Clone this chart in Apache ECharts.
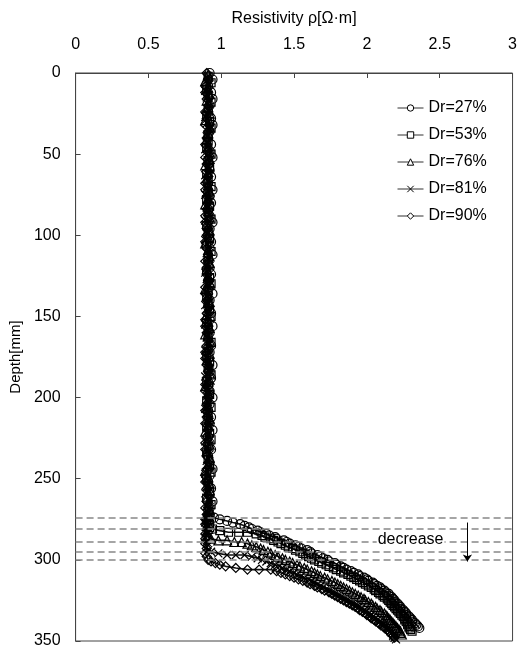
<!DOCTYPE html>
<html><head><meta charset="utf-8">
<script src="https://cdn.jsdelivr.net/npm/echarts@6/dist/echarts.min.js"></script>
<style>html,body{margin:0;padding:0;background:#fff}#c{width:520px;height:651px}</style>
</head><body><div id="c"></div>
<script>
// ---- data ----
const seriesNames = ['Dr=27%', 'Dr=53%', 'Dr=76%', 'Dr=81%', 'Dr=90%'];
const xTicks = [0, 0.5, 1, 1.5, 2, 2.5, 3];
const yTicks = [0, 50, 100, 150, 200, 250, 300, 350];

// depth grids for the constant upper part [mm]
const depthUpA = [0,4,8,12,16,20,24,28,32,36,40,44,48,52,56,60,64,68,72,76,80,84,88,92,96,100,104,108,112,116,120,124,128,132,136,140,144,148,152,156,160,164,168,172,176,180,184,188,192,196,200,204,208,212,216,220,224,228,232,236,240,244,248,252,256,260,264,268,272];
const depthUpB = [2,6,10,14,18,22,26,30,34,38,42,46,50,54,58,62,66,70,74,78,82,86,90,94,98,102,106,110,114,118,122,126,130,134,138,142,146,150,154,158,162,166,170,174,178,182,186,190,194,198,202,206,210,214,218,222,226,230,234,238,242,246,250,254,258,262,266,270];
const depthUpC = [1,5,9,13,17,21,25,29,33,37,41,45,49,53,57,61,65,69,73,77,81,85,89,93,97,101,105,109,113,117,121,125,129,133,137,141,145,149,153,157,161,165,169,173,177,181,185,189,193,197,201,205,209,213,217,221,225,229,233,237,241,245,249,253,257,261,265,269,273];
const depthUpD = [3,7,11,15,19,23,27,31,35,39,43,47,51,55,59,63,67,71,75,79,83,87,91,95,99,103,107,111,115,119,123,127,131,135,139,143,147,151,155,159,163,167,171,175,179,183,187,191,195,199,203,207,211,215,219,223,227,231,235,239,243,247,251,255,259,263,267,271];

// resistivity in the upper part [Ohm m]
const rho27Up = [0.92,0.94,0.91,0.93,0.94,0.92,0.91,0.93,0.94,0.92,0.91,0.93,0.92,0.94,0.91,0.92,0.93,0.91,0.94,0.92,0.93,0.91,0.92,0.94,0.92,0.91,0.93,0.92,0.94,0.91,0.92,0.93,0.91,0.92,0.94,0.92,0.91,0.93,0.92,0.94,0.92,0.91,0.93,0.92,0.91,0.94,0.92,0.93,0.91,0.92,0.94,0.92,0.91,0.93,0.92,0.94,0.91,0.92,0.93,0.91,0.92,0.94,0.92,0.91,0.93,0.92,0.94,0.92,0.92];
const rho53Up = [0.91,0.93,0.90,0.91,0.93,0.91,0.90,0.92,0.93,0.91,0.91,0.90,0.93,0.91,0.92,0.90,0.91,0.93,0.91,0.90,0.92,0.91,0.93,0.90,0.91,0.92,0.90,0.93,0.91,0.91,0.90,0.92,0.93,0.91,0.90,0.91,0.92,0.93,0.90,0.91,0.91,0.93,0.91,0.90,0.92,0.91,0.93,0.90,0.91,0.92,0.90,0.93,0.91,0.91,0.90,0.92,0.93,0.91,0.90,0.91,0.92,0.93,0.90,0.91,0.92,0.90,0.93,0.91];
const rho76Up = [0.91,0.89,0.91,0.92,0.90,0.91,0.92,0.89,0.92,0.91,0.90,0.91,0.92,0.92,0.89,0.91,0.90,0.91,0.92,0.91,0.89,0.91,0.92,0.90,0.92,0.91,0.89,0.91,0.92,0.92,0.90,0.91,0.92,0.89,0.91,0.92,0.91,0.90,0.91,0.92,0.89,0.92,0.91,0.92,0.90,0.91,0.92,0.92,0.89,0.91,0.91,0.90,0.91,0.92,0.91,0.89,0.91,0.92,0.90,0.92,0.91,0.89,0.91,0.92,0.92,0.90,0.91,0.92,0.90];
const rho81Up = [0.90,0.92,0.89,0.90,0.91,0.92,0.89,0.90,0.92,0.90,0.91,0.89,0.90,0.92,0.92,0.89,0.91,0.90,0.89,0.92,0.90,0.92,0.89,0.91,0.90,0.89,0.92,0.90,0.91,0.92,0.89,0.90,0.92,0.90,0.91,0.89,0.92,0.90,0.89,0.91,0.90,0.92,0.89,0.90,0.92,0.91,0.89,0.90,0.92,0.90,0.91,0.89,0.90,0.92,0.90,0.91,0.89,0.90,0.92,0.90,0.92,0.89,0.91,0.90,0.89,0.92,0.90,0.91];
const rho90Up = [0.90,0.91,0.89,0.89,0.90,0.91,0.89,0.90,0.89,0.91,0.90,0.89,0.91,0.89,0.90,0.91,0.91,0.89,0.89,0.90,0.91,0.90,0.89,0.89,0.91,0.90,0.89,0.90,0.91,0.89,0.90,0.91,0.91,0.89,0.89,0.90,0.91,0.90,0.89,0.89,0.90,0.91,0.90,0.89,0.89,0.90,0.91,0.90,0.89,0.89,0.91,0.90,0.89,0.90,0.89,0.91,0.90,0.89,0.89,0.90,0.91,0.90,0.89,0.89,0.90,0.91,0.90,0.89,0.90];

// lower part (knee and increase): [depth mm, resistivity]
const low27 = [[273,0.92],[274,0.95],[275,0.99],[276,1.04],[277,1.08],[278,1.13],[279,1.16],[280,1.19],[281,1.21],[282,1.25],[283,1.27],[284,1.31],[285,1.33],[286,1.37],[287,1.38],[288,1.43],[289,1.45],[290,1.47],[291,1.51],[292,1.53],[293,1.55],[294,1.59],[295,1.61],[296,1.62],[297,1.66],[298,1.68],[299,1.70],[300,1.73],[301,1.74],[302,1.78],[303,1.79],[304,1.82],[305,1.84],[306,1.86],[307,1.89],[308,1.91],[309,1.94],[310,1.95],[311,1.98],[312,2.00],[313,2.01],[314,2.04],[315,2.05],[316,2.07],[317,2.09],[318,2.10],[319,2.12],[320,2.13],[321,2.15],[322,2.15],[323,2.17],[324,2.18],[325,2.19],[326,2.19],[327,2.21],[328,2.22],[329,2.23],[330,2.23],[331,2.25],[332,2.26],[333,2.27],[334,2.27],[335,2.29],[336,2.30],[337,2.31],[338,2.31],[339,2.33],[340,2.34],[341,2.35],[342,2.36]];
const low53 = [[274,0.91],[276,0.91],[278,0.92],[280,0.92],[281,0.94],[282,0.99],[283,1.05],[283,1.12],[283,1.18],[284,1.24],[285,1.28],[286,1.30],[287,1.34],[288,1.36],[289,1.39],[290,1.41],[291,1.44],[292,1.46],[293,1.49],[294,1.51],[295,1.54],[296,1.56],[297,1.58],[298,1.60],[299,1.62],[300,1.64],[301,1.67],[302,1.69],[303,1.72],[304,1.74],[305,1.77],[306,1.79],[307,1.82],[308,1.84],[309,1.87],[310,1.89],[311,1.91],[312,1.93],[313,1.95],[314,1.97],[315,1.99],[316,2.01],[317,2.03],[318,2.05],[319,2.06],[320,2.08],[321,2.09],[322,2.11],[323,2.12],[324,2.14],[325,2.15],[326,2.16],[327,2.17],[328,2.18],[329,2.19],[330,2.20],[331,2.21],[332,2.22],[333,2.23],[334,2.24],[335,2.25],[336,2.26],[337,2.26],[338,2.27],[339,2.28],[340,2.28],[341,2.29],[342,2.29],[343,2.30],[344,2.31]];
const low76 = [[275,0.90],[277,0.91],[279,0.90],[281,0.91],[283,0.90],[285,0.91],[287,0.93],[288,0.98],[288,1.04],[289,1.09],[289,1.14],[290,1.18],[291,1.21],[292,1.24],[293,1.27],[294,1.29],[295,1.32],[296,1.34],[297,1.37],[298,1.39],[299,1.42],[300,1.44],[301,1.47],[302,1.49],[303,1.52],[304,1.54],[305,1.57],[306,1.59],[307,1.62],[308,1.64],[309,1.66],[310,1.68],[311,1.71],[312,1.73],[313,1.76],[314,1.78],[315,1.80],[316,1.82],[317,1.84],[318,1.86],[319,1.88],[320,1.90],[321,1.92],[322,1.94],[323,1.96],[324,1.98],[325,1.99],[326,2.01],[327,2.03],[328,2.04],[329,2.06],[330,2.07],[331,2.09],[332,2.10],[333,2.12],[334,2.13],[335,2.14],[336,2.15],[337,2.16],[338,2.17],[339,2.18],[340,2.19],[341,2.20],[342,2.21],[343,2.22],[344,2.23],[345,2.23],[346,2.24]];
const low81 = [[274,0.90],[277,0.89],[280,0.90],[283,0.90],[286,0.89],[289,0.90],[292,0.90],[294,0.91],[295,0.93],[296,0.98],[297,1.04],[297,1.10],[297,1.16],[298,1.21],[299,1.25],[300,1.28],[301,1.31],[302,1.34],[303,1.37],[304,1.40],[305,1.42],[306,1.45],[307,1.47],[308,1.50],[309,1.52],[310,1.55],[311,1.57],[312,1.60],[313,1.62],[314,1.64],[315,1.66],[316,1.68],[317,1.70],[318,1.72],[319,1.74],[320,1.76],[321,1.78],[322,1.80],[323,1.82],[324,1.84],[325,1.86],[326,1.88],[327,1.90],[328,1.92],[329,1.94],[330,1.96],[331,1.98],[332,1.99],[333,2.01],[334,2.03],[335,2.04],[336,2.06],[337,2.07],[338,2.09],[339,2.10],[340,2.11],[341,2.12],[342,2.14],[343,2.15],[344,2.16],[345,2.17],[346,2.18],[347,2.18],[348,2.19],[349,2.20]];
const low90 = [[275,0.89],[278,0.89],[281,0.90],[284,0.89],[287,0.89],[290,0.89],[293,0.90],[296,0.89],[298,0.90],[300,0.91],[301,0.93],[302,0.96],[303,0.99],[304,1.03],[305,1.10],[306,1.18],[306,1.26],[306,1.34],[307,1.38],[308,1.41],[309,1.44],[310,1.47],[311,1.50],[312,1.53],[313,1.56],[314,1.59],[315,1.61],[316,1.64],[317,1.66],[318,1.69],[319,1.71],[320,1.74],[321,1.76],[322,1.78],[323,1.80],[324,1.82],[325,1.84],[326,1.86],[327,1.88],[328,1.90],[329,1.92],[330,1.94],[331,1.95],[332,1.97],[333,1.99],[334,2.00],[335,2.02],[336,2.03],[337,2.05],[338,2.06],[339,2.08],[340,2.09],[341,2.11],[342,2.12],[343,2.14],[344,2.15],[345,2.16],[346,2.17],[347,2.18],[348,2.19]];

// dashed reference depths and annotation
const dashDepths = [274, 281, 289, 295, 300];
const arrowRho = 2.69, arrowFrom = 277, arrowTo = 301;
const noteRho = 2.30, noteDepth = 287.7, noteText = 'decrease';

// ---- build ----
function pairs(dUp, rUp, low) {
  const out = [];
  for (let i = 0; i < dUp.length; i++) if (rUp[i] !== undefined) out.push([rUp[i], dUp[i]]);
  for (let i = 0; i < low.length; i++) out.push([low[i][1], low[i][0]]);
  return out;
}
const seriesData = [
  pairs(depthUpA, rho27Up, low27),
  pairs(depthUpB, rho53Up, low53),
  pairs(depthUpC, rho76Up, low76),
  pairs(depthUpD, rho81Up, low81),
  pairs(depthUpA, rho90Up, low90)
];
const symbols = ['circle', 'rect', 'triangle', 'path://M0,0L10,10M10,0L0,10', 'diamond'];
const sizes = [9, 8, 9, 8, 9];
const FONT = '"Liberation Sans", Arial, sans-serif';

const series = seriesNames.map((n, i) => ({
  name: n,
  type: 'line',
  data: seriesData[i],
  symbol: symbols[i],
  symbolSize: sizes[i],
  showAllSymbol: true,
  clip: false,
  z: 3,
  lineStyle: { color: '#111', width: 1.6 },
  itemStyle: { color: 'rgba(0,0,0,0)', borderColor: '#000', borderWidth: 1.2 },
  emphasis: { disabled: true }
}));
series[0].markLine = {
  silent: true, symbol: ['none', 'none'], animation: false,
  label: { show: false },
  lineStyle: { type: [7, 4], color: '#888', width: 1.5 },
  data: dashDepths.map(d => ({ yAxis: d }))
};
series[4].markLine = {
  silent: true, animation: false, label: { show: false },
  symbol: ['none', 'arrow'], symbolSize: 7,
  lineStyle: { type: 'solid', color: '#000', width: 1 },
  data: [[{ coord: [arrowRho, arrowFrom] }, { coord: [arrowRho, arrowTo] }]]
};
series[1].markPoint = {
  silent: true, animation: false,
  data: [{
    coord: [noteRho, noteDepth], symbol: 'rect', symbolSize: 1,
    itemStyle: { color: 'rgba(0,0,0,0)', borderWidth: 0 },
    label: { show: true, position: 'inside', formatter: noteText, color: '#000', fontSize: 16, fontFamily: FONT, backgroundColor: '#fff', padding: [1, 1] }
  }]
};

const chart = echarts.init(document.getElementById('c'), null, { renderer: 'canvas' });
chart.setOption({
  animation: false,
  backgroundColor: '#fff',
  textStyle: { fontFamily: FONT },
  grid: { left: 75, right: 3, top: 73, bottom: 10, show: true, borderColor: '#444', borderWidth: 1, backgroundColor: 'transparent' },
  legend: {
    orient: 'vertical', left: 392, top: 95, itemWidth: 26, itemHeight: 8, itemGap: 11,
    itemStyle: { color: '#fff', borderColor: '#000', borderWidth: 1 },
    lineStyle: { color: '#333', width: 1 },
    textStyle: { fontSize: 16, color: '#000', fontFamily: FONT },
    data: seriesNames
  },
  xAxis: {
    type: 'value', position: 'top', min: xTicks[0], max: xTicks[xTicks.length - 1], interval: 0.5,
    name: 'Resistivity ρ[Ω·m]', nameLocation: 'middle', nameGap: 46,
    nameTextStyle: { fontSize: 16, color: '#000', fontFamily: FONT },
    axisLine: { show: true, lineStyle: { color: '#444' } },
    axisTick: { show: true, inside: true, length: 5, lineStyle: { color: '#444' } },
    axisLabel: { fontSize: 16, color: '#000', margin: 20, fontFamily: FONT },
    splitLine: { show: false }
  },
  yAxis: {
    type: 'value', inverse: true, min: yTicks[0], max: yTicks[yTicks.length - 1], interval: 50,
    name: 'Depth[mm]', nameLocation: 'middle', nameGap: 52, nameRotate: 90,
    nameTextStyle: { fontSize: 15, color: '#000', fontFamily: FONT },
    axisLine: { show: true, lineStyle: { color: '#444' } },
    axisTick: { show: true, inside: true, length: 5, lineStyle: { color: '#444' } },
    axisLabel: { fontSize: 16, color: '#000', margin: 15, fontFamily: FONT },
    splitLine: { show: false }
  },
  series: series
});
</script></body></html>
